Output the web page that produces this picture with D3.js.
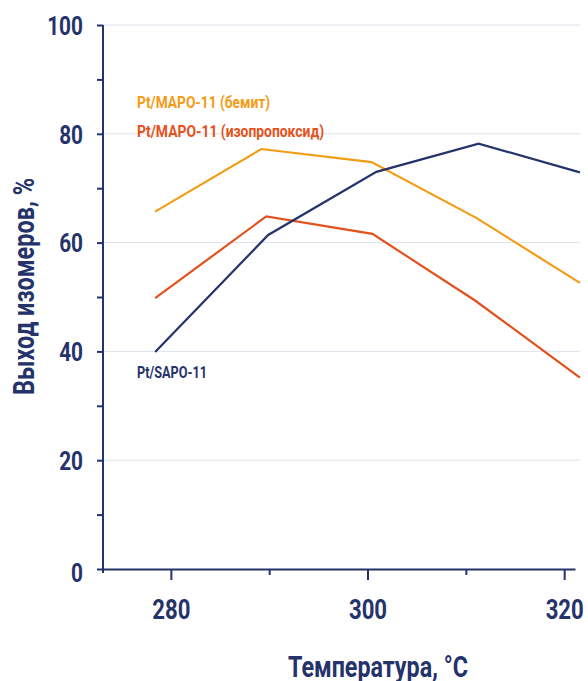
<!DOCTYPE html>
<html>
<head>
<meta charset="utf-8">
<script src="https://cdn.jsdelivr.net/npm/d3@7"></script>
<style>
  body { margin: 0; background: #fff; }
  svg text { font-family: "Roboto", "Liberation Sans", sans-serif; font-weight: bold; }
</style>
</head>
<body>
<div id="chart"></div>
<script>
// temperatures, °C (read per series from the picture)
var tempSapo = [278.4, 289.9, 300.9, 311.3, 321.6];
var tempBemit = [278.4, 289.2, 300.4, 311.1, 321.6];
var tempIso = [278.4, 289.7, 300.5, 310.9, 321.6];

// isomer yield, %
var yieldSapo = [39.9, 61.4, 73.0, 78.2, 72.9];
var yieldBemit = [65.7, 77.2, 74.8, 64.5, 52.6];
var yieldIso = [49.8, 64.8, 61.6, 49.4, 35.2];

var seriesNames = ['Pt/SAPO-11', 'Pt/MAPO-11 (бемит)', 'Pt/MAPO-11 (изопропоксид)'];
var xTicks = [280, 290, 300, 310, 320];
var xLabels = [280, 300, 320];
var yTicks = [0, 10, 20, 30, 40, 50, 60, 70, 80, 90, 100];
var yLabels = [0, 20, 40, 60, 80, 100];

var navy = '#24336a', orange = '#f39c16', red = '#e3521d';
var width = 588, height = 681;

// the reference font is a narrow one, squeeze glyphs to match
function condense(sel, k) {
    sel.each(function() {
        var len = this.getComputedTextLength();
        if (len > 0) d3.select(this).attr('textLength', len * k).attr('lengthAdjust', 'spacingAndGlyphs');
    });
}

var svg = d3.select('#chart').append('svg')
    .attr('width', width)
    .attr('height', height);

var x = d3.scaleLinear().domain([273.1, 321.1]).range([103, 575]);
var y = d3.scaleLinear().domain([0, 100]).range([569, 25]);

// grid
svg.append('g')
    .selectAll('line')
    .data(yLabels.filter(function(d) { return d > 0; }))
    .join('line')
    .attr('x1', x(273.1)).attr('x2', 580)
    .attr('y1', function(d) { return y(d); })
    .attr('y2', function(d) { return y(d); })
    .attr('stroke', '#dfe2ec')
    .attr('stroke-width', 1);

// y axis
var yAxis = svg.append('g')
    .attr('transform', 'translate(' + x(273.1) + ',0)')
    .call(d3.axisLeft(y).tickValues(yTicks).tickSize(6).tickSizeOuter(0)
        .tickFormat(function(d) { return yLabels.indexOf(d) >= 0 ? d : ''; }));
yAxis.select('.domain').attr('stroke', navy).attr('stroke-width', 2)
    .attr('d', 'M0,' + y(100) + 'V' + (y(0) + 4));
yAxis.selectAll('.tick line').attr('stroke', navy).attr('stroke-width', 2);
yAxis.selectAll('.tick text')
    .attr('x', -20)
    .attr('dy', function(d) { return d === 0 ? '0.47em' : '0.36em'; })
    .attr('fill', navy)
    .style('font-size', '26px')
    .call(condense, 0.8);

// x axis
var xAxis = svg.append('g')
    .attr('transform', 'translate(0,' + y(0) + ')')
    .call(d3.axisBottom(x).tickValues(xTicks).tickSizeOuter(0)
        .tickFormat(function(d) { return xLabels.indexOf(d) >= 0 ? d : ''; }));
xAxis.select('.domain').attr('stroke', navy).attr('stroke-width', 2);
xAxis.selectAll('.tick line').attr('stroke', navy).attr('stroke-width', 2)
    .attr('y2', function(d) { return xLabels.indexOf(d) >= 0 ? 11 : 6; });
xAxis.selectAll('.tick text')
    .attr('y', 31)
    .attr('dy', '0.71em')
    .attr('fill', navy)
    .style('font-size', '27px')
    .call(condense, 0.82);

// lines
var series = [
    {name: seriesNames[1], temps: tempBemit, values: yieldBemit, color: orange},
    {name: seriesNames[2], temps: tempIso, values: yieldIso, color: red},
    {name: seriesNames[0], temps: tempSapo, values: yieldSapo, color: navy}
];

var line = d3.line()
    .x(function(d) { return x(d[0]); })
    .y(function(d) { return y(d[1]); });

svg.append('g')
    .selectAll('path')
    .data(series)
    .join('path')
    .attr('d', function(s) { return line(d3.zip(s.temps, s.values)); })
    .attr('fill', 'none')
    .attr('stroke', function(s) { return s.color; })
    .attr('stroke-width', 2.2)
    .attr('stroke-linejoin', 'miter');

// series labels
var labelPos = [
    {text: seriesNames[1], color: orange, y: 108, w: 133},
    {text: seriesNames[2], color: red, y: 137, w: 187},
    {text: seriesNames[0], color: navy, y: 378, w: 70}
];
svg.append('g')
    .selectAll('text')
    .data(labelPos)
    .join('text')
    .attr('x', 137)
    .attr('y', function(d) { return d.y; })
    .attr('fill', function(d) { return d.color; })
    .attr('textLength', function(d) { return d.w; })
    .attr('lengthAdjust', 'spacingAndGlyphs')
    .style('font-size', '16.5px')
    .text(function(d) { return d.text; });

// axis titles
svg.append('text')
    .attr('x', 378)
    .attr('y', 677)
    .attr('text-anchor', 'middle')
    .attr('fill', navy)
    .attr('textLength', 180)
    .attr('lengthAdjust', 'spacingAndGlyphs')
    .style('font-size', '30px')
    .text('Температура, °С');

svg.append('text')
    .attr('transform', 'translate(33.5,286.5) rotate(-90)')
    .attr('text-anchor', 'middle')
    .attr('fill', navy)
    .attr('textLength', 217)
    .attr('lengthAdjust', 'spacingAndGlyphs')
    .style('font-size', '29px')
    .text('Выход изомеров, %');
</script>
</body>
</html>
